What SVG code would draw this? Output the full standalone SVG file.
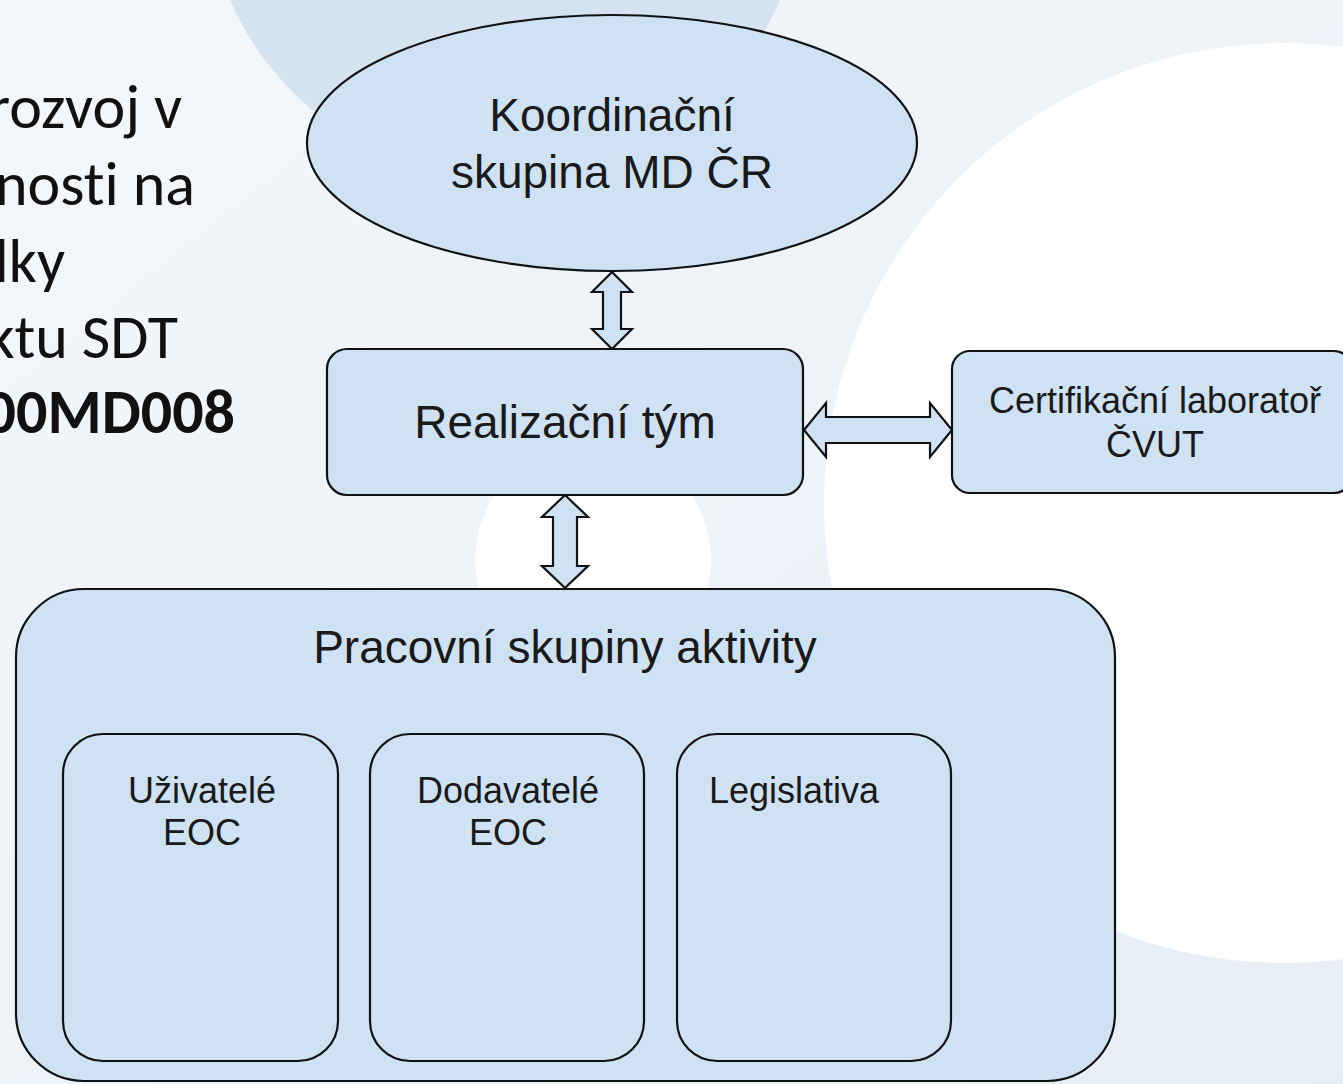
<svg xmlns="http://www.w3.org/2000/svg" width="1343" height="1084" viewBox="0 0 1343 1084">
  <defs>
    <linearGradient id="bg" x1="0" y1="0" x2="1" y2="1">
      <stop offset="0" stop-color="#f4f7fa"/>
      <stop offset="0.5" stop-color="#eef3f8"/>
      <stop offset="1" stop-color="#e6edf5"/>
    </linearGradient>
    <style>
      .node { fill: #cfe2f3; stroke: #111; stroke-width: 2.2; }
      .arrow { fill: #cfe2f3; stroke: #111; stroke-width: 2.2; stroke-linejoin: miter; }
      .lbl { font-family: "Liberation Sans", Arial, sans-serif; fill: #1a1a1a; text-anchor: middle; }
      .big { font-size: 46px; }
      .mid { font-size: 36px; }
      .side { font-family: Carlito, "Open Sans", "Liberation Sans", sans-serif; font-size: 62px; fill: #111; text-anchor: end; font-variant-ligatures: none; }
    </style>
  </defs>

  <!-- background -->
  <g id="background">
    <rect x="0" y="0" width="1343" height="1084" fill="url(#bg)"/>
    <circle cx="505" cy="-120" r="300" fill="#d5e2ef"/>
    <circle cx="593" cy="560" r="118" fill="#ffffff"/>
    <circle cx="1284" cy="503" r="460" fill="#ffffff"/>
  </g>

  <!-- left slide text (clipped at left edge) -->
  <g id="side-text">
    <text class="side" x="182" y="128">rozvoj v</text>
    <text class="side" x="195" y="205">nosti na</text>
    <text class="side" x="65" y="282">lky</text>
    <text class="side" x="178" y="358">ktu SDT</text>
    <text class="side" x="235" y="433" font-weight="bold">00MD008</text>
  </g>

  <!-- connectors -->
  <g id="connectors">
    <path class="arrow" d="M612,272 L632,292 L621,292 L621,329 L632,329 L612,349 L592,329 L603,329 L603,292 L592,292 Z"/>
    <path class="arrow" d="M565,495 L588,517 L577,517 L577,566 L588,566 L565,588 L542,566 L553,566 L553,517 L542,517 Z"/>
    <path class="arrow" d="M804,430 L826,403 L826,417 L930,417 L930,403 L952,430 L930,457 L930,443 L826,443 L826,457 Z"/>
  </g>

  <g id="koordinacni-skupina">
    <ellipse class="node" cx="612" cy="143" rx="305" ry="128"/>
    <text class="lbl big" x="612" y="131">Koordinační</text>
    <text class="lbl big" x="612" y="188">skupina MD ČR</text>
  </g>

  <g id="realizacni-tym">
    <rect class="node" x="327" y="349" width="476" height="146" rx="20" ry="20"/>
    <text class="lbl big" x="565" y="438">Realizační tým</text>
  </g>

  <g id="certifikacni-laborator">
    <rect class="node" x="952" y="351" width="400" height="142" rx="18" ry="18"/>
    <text class="lbl mid" x="1155" y="413">Certifikační laboratoř</text>
    <text class="lbl mid" x="1155" y="457">ČVUT</text>
  </g>

  <g id="pracovni-skupiny">
    <rect class="node" x="16" y="589" width="1099" height="492" rx="68" ry="68"/>
    <text class="lbl big" x="565" y="663">Pracovní skupiny aktivity</text>
  </g>

  <g id="uzivatele-eoc">
    <rect class="node" x="63" y="734" width="275" height="327" rx="40" ry="40"/>
    <text class="lbl mid" x="202" y="803">Uživatelé</text>
    <text class="lbl mid" x="202" y="845">EOC</text>
  </g>

  <g id="dodavatele-eoc">
    <rect class="node" x="370" y="734" width="274" height="327" rx="40" ry="40"/>
    <text class="lbl mid" x="508" y="803">Dodavatelé</text>
    <text class="lbl mid" x="508" y="845">EOC</text>
  </g>

  <g id="legislativa">
    <rect class="node" x="677" y="734" width="274" height="327" rx="40" ry="40"/>
    <text class="lbl mid" x="709" y="803" style="text-anchor:start">Legislativa</text>
  </g>
</svg>
